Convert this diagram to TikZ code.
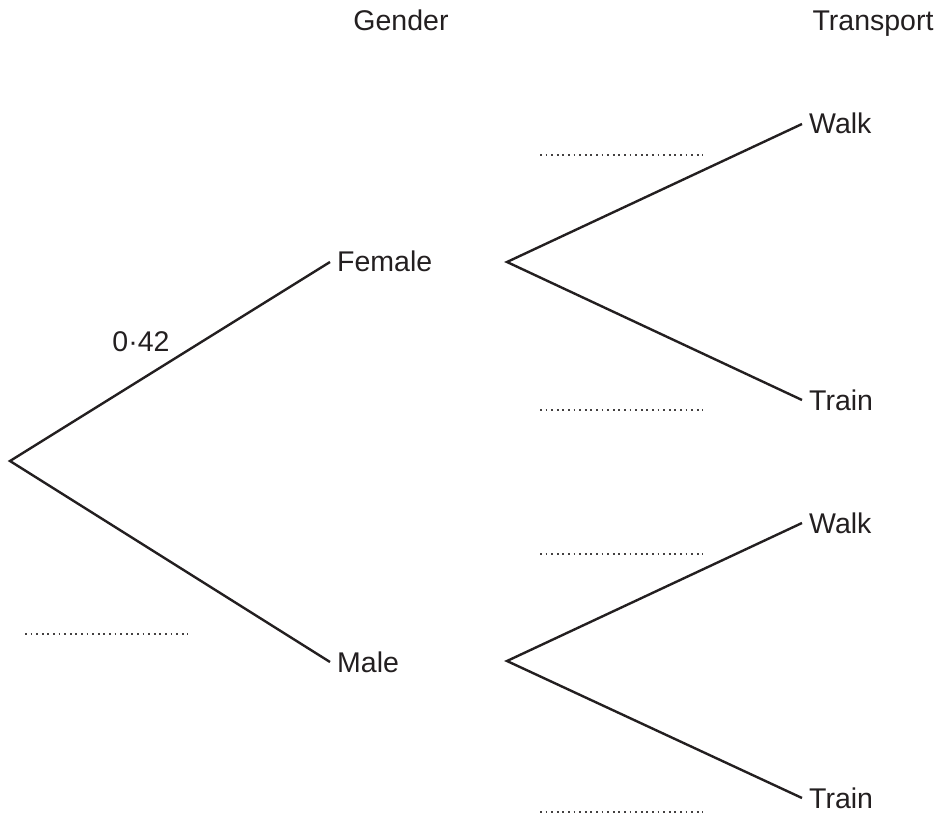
\documentclass[tikz,border=0pt]{standalone}
\usepackage{fontspec}
\setmainfont{Liberation Sans}
\definecolor{ink}{HTML}{231F20}
\tikzset{
  every node/.style={font=\fontsize{28.5}{32}\selectfont, text=ink},
  branch/.style={line width=2.4pt, draw=ink},
  leaf/.style={anchor=west, inner sep=7pt, text height=20pt, text depth=0pt},
  blank/.style={line width=1.8pt, draw=ink!85, dash pattern=on 1.8pt off 3.8pt}
}
\begin{document}
\begin{tikzpicture}[x=1pt,y=-1pt]
      \useasboundingbox (0,0) rectangle (943,821);
      % headings
      \node[anchor=base] (gender) at (401,31) {Gender};
      \node[anchor=base] (transport) at (873,31) {Transport};
      % first stage
      \coordinate (root) at (10,461);
      \draw
        (330,262) node[leaf] (female){Female}
        (330,662) node[leaf] (male){Male};
      \coordinate (froot) at (507,262);
      \coordinate (mroot) at (507,661);
      % second stage
      \draw
        (802,124) node[leaf] (fwalk){Walk}
        (802,400) node[leaf] (ftrain){Train}
        (802,523) node[leaf] (mwalk){Walk}
        (802,798) node[leaf] (mtrain){Train};
      \begin{scope}[branch]
        \draw (female.west) -- (root) -- (male.west);
        \draw (fwalk.west) -- (froot) -- (ftrain.west);
        \draw (mwalk.west) -- (mroot) -- (mtrain.west);
      \end{scope}
      \node[anchor=base] (prob) at (141,352) {0·42};
      % answer blanks
      \draw[blank] (25,634) -- (188,634);
      \draw[blank] (540,155) -- (703,155);
      \draw[blank] (540,410) -- (703,410);
      \draw[blank] (540,554) -- (703,554);
      \draw[blank] (540,812) -- (703,812);
    \end{tikzpicture}
\end{document}
